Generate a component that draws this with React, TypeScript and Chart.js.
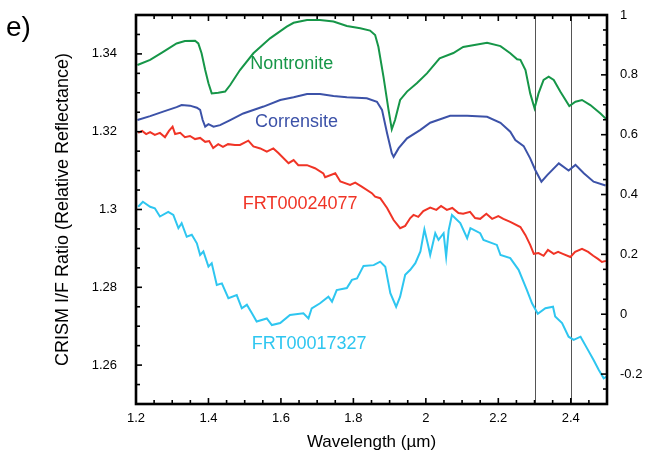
import React, { useEffect, useRef } from "react";
import { Chart, registerables } from "chart.js";

Chart.register(...registerables);

// ---- Tick labels / axis ranges ----
const xTickValues = [1.2, 1.4, 1.6, 1.8, 2.0, 2.2, 2.4];
const leftTickValues = [1.26, 1.28, 1.3, 1.32, 1.34];
const rightTickValues = [-0.2, 0, 0.2, 0.4, 0.6, 0.8, 1.0];
const markerLines = [2.3, 2.4];

// ---- Nontronite (relative reflectance, right axis) ----
const nontroniteWl = [1.204, 1.239, 1.275, 1.312, 1.335, 1.363, 1.372, 1.381, 1.391, 1.4, 1.409, 1.427, 1.446, 1.46, 1.487, 1.524, 1.57, 1.616, 1.635, 1.672, 1.708, 1.745, 1.782, 1.819, 1.846, 1.86, 1.869, 1.883, 1.897, 1.906, 1.915, 1.929, 1.948, 1.975, 2.003, 2.038, 2.076, 2.103, 2.169, 2.206, 2.233, 2.252, 2.261, 2.275, 2.288, 2.3, 2.311, 2.325, 2.339, 2.353, 2.371, 2.396, 2.413, 2.431, 2.454, 2.482, 2.498];
const nontroniteR = [0.833, 0.85, 0.877, 0.905, 0.913, 0.914, 0.905, 0.872, 0.816, 0.772, 0.738, 0.74, 0.744, 0.766, 0.816, 0.872, 0.922, 0.961, 0.974, 0.983, 0.983, 0.978, 0.963, 0.956, 0.948, 0.933, 0.894, 0.794, 0.683, 0.618, 0.649, 0.716, 0.744, 0.772, 0.805, 0.855, 0.873, 0.893, 0.907, 0.896, 0.872, 0.852, 0.85, 0.816, 0.738, 0.688, 0.738, 0.783, 0.794, 0.783, 0.744, 0.696, 0.71, 0.716, 0.699, 0.671, 0.652];

// ---- Corrensite (relative reflectance, right axis) ----
const corrensiteWl = [1.204, 1.239, 1.275, 1.312, 1.326, 1.349, 1.368, 1.377, 1.384, 1.391, 1.4, 1.414, 1.432, 1.46, 1.496, 1.552, 1.598, 1.635, 1.672, 1.708, 1.745, 1.782, 1.837, 1.865, 1.879, 1.893, 1.906, 1.911, 1.925, 1.948, 1.985, 2.012, 2.067, 2.114, 2.169, 2.206, 2.233, 2.247, 2.27, 2.288, 2.302, 2.319, 2.335, 2.367, 2.394, 2.413, 2.436, 2.463, 2.496];
const corrensiteR = [0.649, 0.662, 0.677, 0.692, 0.699, 0.697, 0.69, 0.683, 0.649, 0.627, 0.635, 0.627, 0.632, 0.649, 0.671, 0.694, 0.716, 0.725, 0.736, 0.736, 0.729, 0.725, 0.722, 0.71, 0.683, 0.605, 0.538, 0.526, 0.555, 0.588, 0.616, 0.64, 0.663, 0.663, 0.66, 0.64, 0.61, 0.582, 0.562, 0.521, 0.482, 0.443, 0.465, 0.504, 0.48, 0.499, 0.471, 0.443, 0.43];

// ---- FRT00024077 (CRISM I/F ratio, left axis) ----
const frt24077Wl = [1.206, 1.217, 1.228, 1.239, 1.252, 1.266, 1.28, 1.291, 1.301, 1.308, 1.322, 1.335, 1.349, 1.363, 1.377, 1.391, 1.402, 1.413, 1.427, 1.44, 1.454, 1.473, 1.487, 1.51, 1.524, 1.543, 1.561, 1.579, 1.593, 1.621, 1.635, 1.648, 1.672, 1.694, 1.717, 1.722, 1.75, 1.764, 1.791, 1.805, 1.823, 1.851, 1.86, 1.874, 1.893, 1.911, 1.929, 1.943, 1.957, 1.966, 1.979, 1.993, 2.012, 2.029, 2.042, 2.058, 2.073, 2.09, 2.103, 2.122, 2.136, 2.15, 2.167, 2.183, 2.2, 2.214, 2.233, 2.261, 2.275, 2.288, 2.298, 2.311, 2.325, 2.337, 2.353, 2.365, 2.378, 2.399, 2.412, 2.431, 2.448, 2.462, 2.475, 2.486, 2.497];
const frt24077V = [1.3197, 1.3202, 1.3194, 1.3199, 1.3192, 1.3197, 1.3186, 1.3202, 1.3213, 1.3194, 1.3197, 1.3186, 1.3189, 1.3181, 1.3184, 1.3174, 1.3176, 1.3158, 1.3168, 1.3161, 1.3168, 1.3166, 1.3166, 1.3177, 1.3162, 1.3157, 1.3149, 1.3157, 1.3145, 1.3119, 1.3127, 1.3114, 1.3114, 1.3106, 1.3093, 1.3083, 1.3093, 1.3072, 1.3063, 1.3069, 1.3059, 1.3042, 1.3033, 1.3029, 1.3004, 1.2973, 1.2952, 1.2958, 1.2978, 1.2986, 1.2981, 1.2996, 1.3005, 1.2999, 1.3009, 1.2999, 1.3004, 1.2991, 1.2989, 1.2994, 1.2978, 1.2976, 1.2989, 1.2976, 1.2983, 1.2976, 1.2968, 1.2955, 1.2934, 1.2909, 1.2886, 1.2888, 1.2881, 1.2896, 1.2886, 1.2891, 1.2886, 1.2878, 1.2891, 1.2899, 1.2891, 1.2881, 1.2873, 1.2865, 1.2868];

// ---- FRT00017327 (CRISM I/F ratio, left axis) ----
const frt17327Wl = [1.206, 1.219, 1.239, 1.252, 1.266, 1.289, 1.303, 1.317, 1.326, 1.34, 1.354, 1.368, 1.377, 1.386, 1.4, 1.409, 1.423, 1.437, 1.455, 1.478, 1.492, 1.506, 1.52, 1.533, 1.561, 1.575, 1.598, 1.625, 1.662, 1.676, 1.685, 1.708, 1.731, 1.741, 1.754, 1.782, 1.796, 1.81, 1.828, 1.856, 1.874, 1.888, 1.902, 1.918, 1.929, 1.943, 1.957, 1.971, 1.985, 1.996, 2.007, 2.012, 2.026, 2.035, 2.049, 2.056, 2.063, 2.072, 2.095, 2.114, 2.123, 2.15, 2.159, 2.196, 2.206, 2.233, 2.256, 2.279, 2.293, 2.309, 2.33, 2.351, 2.357, 2.376, 2.394, 2.408, 2.427, 2.445, 2.463, 2.477, 2.491, 2.498];
const frt17327V = [1.3007, 1.302, 1.3007, 1.3003, 1.2982, 1.2994, 1.2986, 1.2952, 1.2965, 1.293, 1.2935, 1.2913, 1.2883, 1.2892, 1.2853, 1.2862, 1.2806, 1.281, 1.2772, 1.278, 1.2746, 1.2755, 1.2733, 1.2712, 1.272, 1.2703, 1.2708, 1.2729, 1.2733, 1.272, 1.2746, 1.2759, 1.2776, 1.2763, 1.2793, 1.2798, 1.2819, 1.2823, 1.2855, 1.2857, 1.2866, 1.2853, 1.2785, 1.275, 1.2776, 1.2832, 1.2845, 1.2862, 1.2892, 1.2949, 1.2905, 1.2883, 1.2939, 1.2922, 1.2939, 1.2879, 1.2947, 1.2986, 1.2965, 1.2926, 1.2952, 1.2939, 1.2922, 1.2909, 1.2883, 1.2875, 1.2845, 1.2793, 1.2759, 1.2732, 1.2746, 1.275, 1.2725, 1.2708, 1.2673, 1.2665, 1.2673, 1.2643, 1.2613, 1.2588, 1.2566, 1.257];

// ---- Colours ----
const GREEN = "rgb(22,150,72)";
const BLUE = "rgb(60,82,168)";
const RED = "rgb(240,52,38)";
const CYAN = "rgb(46,198,240)";

// ---- In-plot series labels: [text, wavelength, value, axis, colour] ----
const curveLabels: [string, number, number, string, string][] = [
  ["Nontronite", 1.63, 0.836, "y2", GREEN],
  ["Corrensite", 1.643, 0.642, "y2", BLUE],
  ["FRT00024077", 1.653, 1.3014, "y", RED],
  ["FRT00017327", 1.678, 1.2654, "y", CYAN],
];

const FONT = "'Liberation Sans', Arial, Helvetica, sans-serif";

const zip = (xs: number[], ys: number[]) => xs.map((x, i) => ({ x, y: ys[i] }));
const fmt = (v: number) => String(+(+v).toFixed(3));

const isMult = (v: number, step: number) => Math.abs(v / step - Math.round(v / step)) < 1e-6;

const framePlugin = {
  id: "framePlugin",
  beforeDatasetsDraw(chart: any) {
    const { ctx, chartArea: a, scales } = chart;
    ctx.save();
    ctx.strokeStyle = "#555";
    ctx.lineWidth = 1;
    for (const v of markerLines) {
      const px = Math.round(scales.x.getPixelForValue(v)) + 0.5;
      ctx.beginPath();
      ctx.moveTo(px, a.top);
      ctx.lineTo(px, a.bottom);
      ctx.stroke();
    }
    ctx.restore();
  },
  afterDatasetsDraw(chart: any) {
    const { ctx, chartArea: a, scales } = chart;
    ctx.save();
    ctx.strokeStyle = "#000";
    // ticks
    ctx.lineWidth = 1.6;
    const tick = (x1: number, y1: number, x2: number, y2: number) => {
      ctx.beginPath();
      ctx.moveTo(x1, y1);
      ctx.lineTo(x2, y2);
      ctx.stroke();
    };
    for (let i = 1; i < 26; i++) {
      const v = 1.2 + i * 0.05;
      const px = scales.x.getPixelForValue(v);
      const len = isMult(v, 0.2) ? 6 : 4;
      tick(px, a.bottom, px, a.bottom - len);
      tick(px, a.top, px, a.top + len);
    }
    for (let i = 1; i < 20; i++) {
      const v = 1.25 + i * 0.005;
      const py = scales.y.getPixelForValue(v);
      const len = isMult(v, 0.02) ? 6 : 4;
      tick(a.left, py, a.left + len, py);
    }
    for (let i = 1; i < 26; i++) {
      const v = -0.3 + i * 0.05;
      const py = scales.y2.getPixelForValue(v);
      const len = isMult(v, 0.2) ? 6 : 4;
      tick(a.right, py, a.right - len, py);
    }
    // frame
    ctx.lineWidth = 2.6;
    ctx.strokeRect(a.left, a.top, a.right - a.left, a.bottom - a.top);
    // curve labels
    ctx.font = `18px ${FONT}`;
    ctx.textAlign = "center";
    ctx.textBaseline = "middle";
    for (const [text, wl, val, axis, col] of curveLabels) {
      ctx.fillStyle = col;
      ctx.fillText(text, scales.x.getPixelForValue(wl), scales[axis].getPixelForValue(val));
    }
    // panel letter
    ctx.fillStyle = "#000";
    ctx.textAlign = "left";
    ctx.textBaseline = "alphabetic";
    ctx.font = `28px ${FONT}`;
    ctx.fillText("e)", 6, 36);
    ctx.restore();
  },
};

export default function App() {
  const ref = useRef<HTMLCanvasElement | null>(null);
  useEffect(() => {
    if (!ref.current) return;
    Chart.defaults.font.family = FONT;
    Chart.defaults.color = "#000";
    const lineDs = (label: string, xs: number[], ys: number[], col: string, axis: string) => ({
      label,
      data: zip(xs, ys),
      borderColor: col,
      backgroundColor: col,
      borderWidth: 2,
      pointRadius: 0,
      tension: 0,
      yAxisID: axis,
    });
    const chart = new Chart(ref.current, {
      type: "line",
      data: {
        datasets: [
          lineDs("Nontronite", nontroniteWl, nontroniteR, GREEN, "y2"),
          lineDs("Corrensite", corrensiteWl, corrensiteR, BLUE, "y2"),
          lineDs("FRT00024077", frt24077Wl, frt24077V, RED, "y"),
          lineDs("FRT00017327", frt17327Wl, frt17327V, CYAN, "y"),
        ],
      },
      options: {
        animation: false,
        responsive: false,
        layout: { padding: { left: 48, top: 15, right: 0, bottom: 0 } },
        plugins: { legend: { display: false }, tooltip: { enabled: false } },
        scales: {
          x: {
            type: "linear",
            min: 1.2,
            max: 2.5,
            grid: { display: false, drawTicks: false },
            border: { display: false },
            afterBuildTicks: (s: any) => {
              s.ticks = xTickValues.map((value) => ({ value }));
            },
            afterFit: (s: any) => {
              s.height = 50;
              s.paddingLeft = 0;
              s.paddingRight = 0;
            },
            ticks: { font: { size: 13 }, padding: 7, maxRotation: 0, callback: (v: any) => fmt(v) },
            title: { display: true, text: "Wavelength (µm)", font: { size: 17 }, padding: { top: 0, bottom: 1 } },
          },
          y: {
            type: "linear",
            position: "left",
            min: 1.25,
            max: 1.35,
            grid: { display: false, drawTicks: false },
            border: { display: false },
            afterBuildTicks: (s: any) => {
              s.ticks = leftTickValues.map((value) => ({ value }));
            },
            afterFit: (s: any) => {
              s.width = 88;
              s.paddingTop = 0;
              s.paddingBottom = 0;
            },
            ticks: { font: { size: 13 }, padding: 19, callback: (v: any) => fmt(v) },
            title: {
              display: true,
              text: "CRISM I/F Ratio (Relative Reflectance)",
              font: { size: 18 },
              padding: { top: 4, bottom: 0 },
            },
          },
          y2: {
            type: "linear",
            position: "right",
            min: -0.3,
            max: 1.0,
            grid: { display: false, drawTicks: false },
            border: { display: false },
            afterBuildTicks: (s: any) => {
              s.ticks = rightTickValues.map((value) => ({ value }));
            },
            afterFit: (s: any) => {
              s.width = 46;
              s.paddingTop = 0;
              s.paddingBottom = 0;
            },
            ticks: { font: { size: 13 }, padding: 13, callback: (v: any) => fmt(v) },
          },
        },
      } as any,
      plugins: [framePlugin],
    });
    return () => chart.destroy();
  }, []);
  return (
    <div style={{ position: "fixed", left: 0, top: 0, width: 653, height: 454, background: "#fff" }}>
      <canvas ref={ref} width={653} height={454} style={{ display: "block" }} />
    </div>
  );
}
